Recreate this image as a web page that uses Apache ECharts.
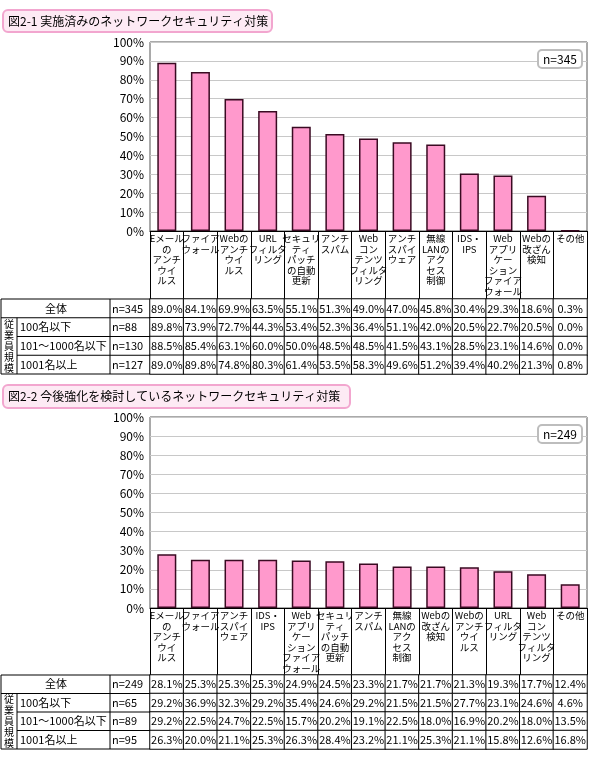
<!DOCTYPE html>
<html><head><meta charset="utf-8">
<script src="https://cdn.jsdelivr.net/npm/echarts@6/dist/echarts.min.js"></script>
<style>html,body{margin:0;padding:0;background:#fff}#c{width:590px;height:761px}</style>
</head><body><div id="c"></div>
<script>
// ---- data ----
const title1 = '図2-1 実施済みのネットワークセキュリティ対策';
const title2 = '図2-2 今後強化を検討しているネットワークセキュリティ対策';
const nLabel1 = 'n=345';
const nLabel2 = 'n=249';
const rowLabels = ['全体', '100名以下', '101～1000名以下', '1001名以上'];
const groupLabel = '従業員規模';
const yTicks = { min: 0, max: 100, interval: 10 };

const cats1 = ['Eメール\nの\nアンチ\nウイ\nルス', 'ファイア\nウォール', 'Webの\nアンチ\nウイ\nルス', 'URL\nフィルタ\nリング',
  'セキュリ\nティ\nパッチ\nの自動\n更新', 'アンチ\nスパム', 'Web\nコン\nテンツ\nフィルタ\nリング', 'アンチ\nスパイ\nウェア',
  '無線\nLANの\nアク\nセス\n制御', 'IDS・\nIPS', 'Web\nアプリ\nケー\nション\nファイア\nウォール', 'Webの\n改ざん\n検知', 'その他'];
const n1 = ['n=345', 'n=88', 'n=130', 'n=127'];
const all1 = [89.0, 84.1, 69.9, 63.5, 55.1, 51.3, 49.0, 47.0, 45.8, 30.4, 29.3, 18.6, 0.3];
const small1 = [89.8, 73.9, 72.7, 44.3, 53.4, 52.3, 36.4, 51.1, 42.0, 20.5, 22.7, 20.5, 0.0];
const mid1 = [88.5, 85.4, 63.1, 60.0, 50.0, 48.5, 48.5, 41.5, 43.1, 28.5, 23.1, 14.6, 0.0];
const large1 = [89.0, 89.8, 74.8, 80.3, 61.4, 53.5, 58.3, 49.6, 51.2, 39.4, 40.2, 21.3, 0.8];

const cats2 = ['Eメール\nの\nアンチ\nウイ\nルス', 'ファイア\nウォール', 'アンチ\nスパイ\nウェア', 'IDS・\nIPS',
  'Web\nアプリ\nケー\nション\nファイア\nウォール', 'セキュリ\nティ\nパッチ\nの自動\n更新', 'アンチ\nスパム',
  '無線\nLANの\nアク\nセス\n制御', 'Webの\n改ざん\n検知', 'Webの\nアンチ\nウイ\nルス', 'URL\nフィルタ\nリング',
  'Web\nコン\nテンツ\nフィルタ\nリング', 'その他'];
const n2 = ['n=249', 'n=65', 'n=89', 'n=95'];
const all2 = [28.1, 25.3, 25.3, 25.3, 24.9, 24.5, 23.3, 21.7, 21.7, 21.3, 19.3, 17.7, 12.4];
const small2 = [29.2, 36.9, 32.3, 29.2, 35.4, 24.6, 29.2, 21.5, 21.5, 27.7, 23.1, 24.6, 4.6];
const mid2 = [29.2, 22.5, 24.7, 22.5, 15.7, 20.2, 19.1, 22.5, 18.0, 16.9, 20.2, 18.0, 13.5];
const large2 = [26.3, 20.0, 21.1, 25.3, 26.3, 28.4, 23.2, 21.1, 25.3, 21.1, 15.8, 12.6, 16.8];

// ---- layout ----
const FONT = '"Noto Sans CJK JP", sans-serif';
const L = 150, R = 3;
const C1 = { plotTop: 42, plotH: 189, labH: 68, rowH: 18.75, titleY: 10, titleH: 22, titleW: 269, nY: 50 };
const C2 = { plotTop: 417, plotH: 191, labH: 67, rowH: 18.5, titleY: 385, titleH: 23, titleW: 347, nY: 425 };

function cellData(rows) {
  const out = [];
  rows.forEach((r, ri) => r.forEach((v, ci) => out.push([ci, ri, v])));
  return out;
}

const grids = [], xAxes = [], yAxes = [], series = [], graphics = [];

function build(C, cats, vals, rows, nArr, title, nLabel) {
  const gi = grids.length;
  grids.push({ left: L, right: R, top: C.plotTop, height: C.plotH, show: true, borderColor: '#555', borderWidth: 1, backgroundColor: '#fff' });
  const tableTop = C.plotTop + C.plotH + C.labH;
  grids.push({ left: L, right: R, top: tableTop, height: C.rowH * 4 });
  xAxes.push({
    gridIndex: gi, type: 'category', data: cats, boundaryGap: true,
    axisLine: { lineStyle: { color: '#000', width: 1 } },
    axisTick: { show: true, interval: 0, length: C.labH, lineStyle: { color: '#000', width: 1 } },
    axisLabel: { interval: 0, color: '#000', fontFamily: FONT, fontSize: 9.5, lineHeight: 10.6, verticalAlign: 'top', margin: 2 }
  });
  yAxes.push({
    gridIndex: gi, type: 'value', min: yTicks.min, max: yTicks.max, interval: yTicks.interval,
    axisLine: { show: false }, axisTick: { show: false },
    axisLabel: { formatter: '{value}%', color: '#000', fontFamily: FONT, fontSize: 12, margin: 6 },
    splitLine: { lineStyle: { color: '#c8c8c8', width: 1 } }
  });
  xAxes.push({ gridIndex: gi + 1, type: 'category', data: cats, show: false });
  yAxes.push({ gridIndex: gi + 1, type: 'category', data: rowLabels, inverse: true, show: false });
  series.push({
    type: 'bar', xAxisIndex: gi, yAxisIndex: gi, data: vals, barWidth: 19,
    itemStyle: { color: '#ff99cc', borderColor: '#3a0a22', borderWidth: 1.5 }
  });
  series.push({
    type: 'heatmap', xAxisIndex: gi + 1, yAxisIndex: gi + 1, data: cellData(rows),
    itemStyle: { color: '#fff', borderColor: '#000', borderWidth: 1 },
    label: { show: true, color: '#000', fontFamily: FONT, fontSize: 11, formatter: p => p.value[2].toFixed(1) + '%' },
    emphasis: { disabled: true }
  });
  // title box
  graphics.push({ type: 'rect', z: 100, shape: { x: 3, y: C.titleY, width: C.titleW, height: C.titleH, r: 5 },
    style: { fill: '#fdeaf4', stroke: '#f2a6cf', lineWidth: 2 } });
  graphics.push({ type: 'text', z: 101, style: { text: title, x: 8, y: C.titleY + C.titleH / 2, font: '12px ' + FONT, fill: '#000', textVerticalAlign: 'middle' } });
  // n box
  graphics.push({ type: 'rect', z: 100, shape: { x: 538, y: C.nY, width: 44, height: 18, r: 4 },
    style: { fill: '#fff', stroke: '#bdbdbd', lineWidth: 2 } });
  graphics.push({ type: 'text', z: 101, style: { text: nLabel, x: 560, y: C.nY + 9, font: '12px ' + FONT, fill: '#000', textAlign: 'center', textVerticalAlign: 'middle' } });
  // left part of table
  const h = C.rowH, bot = tableTop + 4 * h;
  const ln = (x1, y1, x2, y2) => graphics.push({ type: 'line', z: 100, shape: { x1, y1, x2, y2 }, style: { stroke: '#000', lineWidth: 1 } });
  ln(1, tableTop, L, tableTop); ln(1, bot, L, bot); ln(1, tableTop, 1, bot);
  ln(1, tableTop + h, L, tableTop + h);
  ln(17, tableTop + 2 * h, L, tableTop + 2 * h);
  ln(17, tableTop + 3 * h, L, tableTop + 3 * h);
  ln(17, tableTop + h, 17, bot); ln(110, tableTop, 110, bot);
  const txt = (t, x, y, align, size, lh) => graphics.push({ type: 'text', z: 101, style: { text: t, x, y, font: size + 'px ' + FONT, fill: '#000', textAlign: align, textVerticalAlign: 'middle', lineHeight: lh } });
  txt(rowLabels[0], 56, tableTop + h / 2, 'center', 11);
  for (let i = 1; i < 4; i++) txt(rowLabels[i], 20, tableTop + h * (i + 0.5), 'left', 11);
  for (let i = 0; i < 4; i++) txt(nArr[i], 112, tableTop + h * (i + 0.5), 'left', 11);
  txt(groupLabel.split('').join('\n'), 9, tableTop + h * 2.5, 'center', 10, 11);
}

build(C1, cats1, all1, [all1, small1, mid1, large1], n1, title1, nLabel1);
build(C2, cats2, all2, [all2, small2, mid2, large2], n2, title2, nLabel2);

const chart = echarts.init(document.getElementById('c'));
chart.setOption({
  animation: false,
  backgroundColor: '#fff',
  grid: grids, xAxis: xAxes, yAxis: yAxes, series: series,
  visualMap: { show: false, seriesIndex: [1, 3], min: 0, max: 100, inRange: { color: ['#ffffff', '#ffffff'] } },
  graphic: { elements: graphics }
});
</script></body></html>
